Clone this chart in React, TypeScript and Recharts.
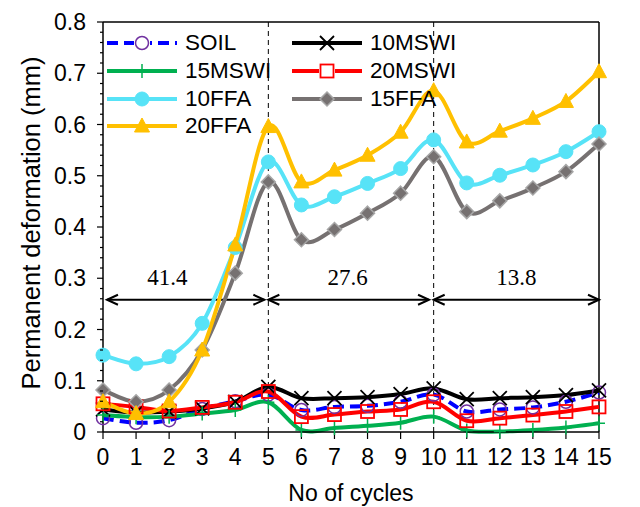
import React from "react";
import {
  LineChart,
  Line,
  XAxis,
  YAxis,
  ReferenceLine,
  ReferenceDot,
} from "recharts";

const cycles = [0, 1, 2, 3, 4, 5, 6, 7, 8, 9, 10, 11, 12, 13, 14, 15];
const soil = [0.027, 0.018, 0.023, 0.045, 0.06, 0.073, 0.043, 0.049, 0.051, 0.059, 0.073, 0.04, 0.044, 0.048, 0.059, 0.077];
const mswi10 = [0.044, 0.038, 0.04, 0.046, 0.059, 0.088, 0.066, 0.066, 0.068, 0.074, 0.085, 0.064, 0.066, 0.068, 0.072, 0.081];
const mswi15 = [0.033, 0.029, 0.03, 0.036, 0.043, 0.058, 0.004, 0.008, 0.012, 0.018, 0.03, 0.003, 0.001, 0.004, 0.009, 0.017];
const mswi20 = [0.055, 0.049, 0.041, 0.048, 0.058, 0.079, 0.03, 0.034, 0.04, 0.044, 0.059, 0.022, 0.027, 0.033, 0.04, 0.049];
const ffa10 = [0.15, 0.133, 0.147, 0.212, 0.36, 0.527, 0.443, 0.459, 0.485, 0.514, 0.57, 0.486, 0.501, 0.521, 0.547, 0.586];
const ffa15 = [0.082, 0.059, 0.082, 0.16, 0.31, 0.488, 0.375, 0.395, 0.427, 0.466, 0.537, 0.43, 0.451, 0.476, 0.508, 0.562];
const ffa20 = [0.059, 0.036, 0.059, 0.16, 0.365, 0.596, 0.488, 0.511, 0.54, 0.585, 0.666, 0.566, 0.587, 0.612, 0.645, 0.703];

const xTicks = [0, 1, 2, 3, 4, 5, 6, 7, 8, 9, 10, 11, 12, 13, 14, 15];

// stage annotations: loading-stage arrows and their labels
const stageStarts = [0.12, 5.0, 10.0];
const stageEnds = [4.88, 9.86, 15.0];
const stageLabels = ["41.4", "27.6", "13.8"];
const stageLabelX = [1.95, 7.4, 12.5];
const arrowY = 0.258;
const labelY = 0.302;
const stageDividers = [5, 10];

type MarkerKind = "circleOpen" | "cross" | "plus" | "square" | "circle" | "diamond" | "triangle";

const seriesList: {
  key: string;
  name: string;
  values: number[];
  color: string;
  dash?: string;
  marker: MarkerKind;
  markerColor: string;
}[] = [
  { key: "soil", name: "SOIL", values: soil, color: "#0000ff", dash: "11 6", marker: "circleOpen", markerColor: "#7030a0" },
  { key: "mswi10", name: "10MSWI", values: mswi10, color: "#000000", marker: "cross", markerColor: "#000000" },
  { key: "mswi15", name: "15MSWI", values: mswi15, color: "#00b050", marker: "plus", markerColor: "#00b050" },
  { key: "mswi20", name: "20MSWI", values: mswi20, color: "#ff0000", marker: "square", markerColor: "#ff0000" },
  { key: "ffa10", name: "10FFA", values: ffa10, color: "#57e3f7", marker: "circle", markerColor: "#57e3f7" },
  { key: "ffa15", name: "15FFA", values: ffa15, color: "#767171", marker: "diamond", markerColor: "#767171" },
  { key: "ffa20", name: "20FFA", values: ffa20, color: "#ffc000", marker: "triangle", markerColor: "#ffc000" },
];

const data = cycles.map((c, i) => {
  const row: Record<string, number> = { cycle: c };
  seriesList.forEach((s) => (row[s.key] = s.values[i]));
  return row;
});

const FONT = "'Liberation Sans', Arial, sans-serif";

// Excel-like smoothing (Catmull-Rom through the points)
function smoothCurve(context: any) {
  let pts: [number, number][] = [];
  return {
    areaStart() {},
    areaEnd() {},
    lineStart() {
      pts = [];
    },
    lineEnd() {
      if (!pts.length) return;
      context.moveTo(pts[0][0], pts[0][1]);
      for (let i = 0; i < pts.length - 1; i++) {
        const p0 = pts[i - 1] || pts[i];
        const p1 = pts[i];
        const p2 = pts[i + 1];
        const p3 = pts[i + 2] || p2;
        const k = 1 / 6;
        context.bezierCurveTo(
          p1[0] + (p2[0] - p0[0]) * k,
          p1[1] + (p2[1] - p0[1]) * k,
          p2[0] - (p3[0] - p1[0]) * k,
          p2[1] - (p3[1] - p1[1]) * k,
          p2[0],
          p2[1],
        );
      }
    },
    point(x: number, y: number) {
      pts.push([+x, +y]);
    },
  };
}

function Marker({ kind, color, cx, cy }: { kind: MarkerKind; color: string; cx: number; cy: number }) {
  switch (kind) {
    case "circleOpen":
      return <circle cx={cx} cy={cy} r={6.5} fill="none" stroke={color} strokeWidth={1.5} />;
    case "cross":
      return (
        <path
          d={`M${cx - 7},${cy - 7}L${cx + 7},${cy + 7}M${cx - 7},${cy + 7}L${cx + 7},${cy - 7}`}
          stroke={color}
          strokeWidth={1.8}
        />
      );
    case "plus":
      return (
        <path d={`M${cx},${cy - 7}L${cx},${cy + 7}M${cx - 6},${cy}L${cx + 6},${cy}`} stroke={color} strokeWidth={1.5} />
      );
    case "square":
      return <rect x={cx - 6.5} y={cy - 6.5} width={13} height={13} fill="none" stroke={color} strokeWidth={1.8} />;
    case "circle":
      return <circle cx={cx} cy={cy} r={7} fill={color} stroke={color} />;
    case "diamond":
      return (
        <path
          d={`M${cx},${cy - 7}L${cx + 7},${cy}L${cx},${cy + 7}L${cx - 7},${cy}Z`}
          fill={color}
          stroke="#a6a6a6"
          strokeWidth={1.5}
        />
      );
    case "triangle":
      return <path d={`M${cx},${cy - 8}L${cx + 7.5},${cy + 6}L${cx - 7.5},${cy + 6}Z`} fill={color} stroke={color} />;
  }
  return null;
}

function YTick(props: any) {
  const { x, y, payload } = props;
  const v = payload.value as number;
  const major = Math.abs(v * 10 - Math.round(v * 10)) < 1e-6;
  return (
    <g>
      <line x1={x - (major ? 6 : 3)} x2={x} y1={y} y2={y} stroke="#000" strokeWidth={1.2} />
      {major && (
        <text x={x - 17} y={y} dy={8} textAnchor="end" fontSize={23} fontFamily={FONT} fill="#000">
          {v === 0 ? "0" : v.toFixed(1)}
        </text>
      )}
    </g>
  );
}

function Arrow(props: any) {
  const { x1, y1, x2, y2 } = props;
  const h = 11;
  const w = 5;
  return (
    <g stroke="#000" strokeWidth={2} fill="none">
      <line x1={x1} y1={y1} x2={x2} y2={y2} />
      <path d={`M${x1 + h},${y1 - w}L${x1},${y1}L${x1 + h},${y1 + w}`} />
      <path d={`M${x2 - h},${y2 - w}L${x2},${y2}L${x2 - h},${y2 + w}`} />
    </g>
  );
}

function LegendBox() {
  const rowY = [43, 71, 99, 126];
  const colX = [107, 292];
  return (
    <div style={{ position: "absolute", left: 0, top: 0, pointerEvents: "none" }}>
      {seriesList.map((s, i) => {
        const col = i % 2;
        const row = Math.floor(i / 2);
        const left = colX[col];
        const top = rowY[row] - 12;
        return (
          <div
            key={s.key}
            style={{ position: "absolute", left, top, height: 24, display: "flex", alignItems: "center", whiteSpace: "nowrap" }}
          >
            <svg width={70} height={24}>
              <line x1={0} x2={70} y1={12} y2={12} stroke={s.color} strokeWidth={4} strokeDasharray={s.dash} />
              {s.marker === "circleOpen" || s.marker === "square" ? (
                <rect x={27} y={4} width={16} height={16} fill="#fff" />
              ) : null}
              <Marker kind={s.marker} color={s.markerColor} cx={35} cy={12} />
            </svg>
            <span style={{ marginLeft: 8, fontFamily: FONT, fontSize: 22.5, color: "#000", lineHeight: "24px" }}>
              {s.name}
            </span>
          </div>
        );
      })}
    </div>
  );
}

export default function App() {
  const yTicks: number[] = [];
  for (let i = 0; i <= 40; i++) yTicks.push(Math.round(i * 2) / 100);
  return (
    <div style={{ position: "absolute", left: 0, top: 0, width: 640, height: 507, background: "#fff" }}>
      <LineChart width={640} height={507} data={data} margin={{ top: 22, right: 41, left: 0, bottom: 0 }}>
        <XAxis
          dataKey="cycle"
          type="number"
          domain={[0, 15]}
          ticks={xTicks}
          interval={0}
          tickSize={7}
          tickMargin={10}
          height={75}
          stroke="#000"
          axisLine={{ stroke: "#000", strokeWidth: 1.5 }}
          tickLine={{ stroke: "#000", strokeWidth: 1.2 }}
          tick={{ fontSize: 23, fontFamily: FONT, fill: "#000" }}
          label={{ value: "No of cycles", position: "center", dy: 23, fontSize: 23, fontFamily: FONT, fill: "#000" }}
        />
        <YAxis
          type="number"
          domain={[0, 0.8]}
          ticks={yTicks}
          interval={0}
          width={103}
          tickSize={0}
          tickMargin={0}
          tickLine={false}
          axisLine={{ stroke: "#000", strokeWidth: 1.5 }}
          tick={<YTick />}
          label={{
            value: "Permanent deformation (mm)",
            angle: -90,
            position: "center",
            dx: -21,
            dy: -4,
            fontSize: 25.5,
            fontFamily: FONT,
            fill: "#000",
          }}
        />
        <ReferenceLine y={0.8} stroke="#000" strokeWidth={1.5} />
        <ReferenceLine x={15} stroke="#000" strokeWidth={1.5} />
        {stageDividers.map((x) => (
          <ReferenceLine key={`div-${x}`} x={x} stroke="#000" strokeWidth={1} strokeDasharray="5 4" />
        ))}
        {stageStarts.map((s, i) => (
          <ReferenceLine
            key={`arrow-${i}`}
            segment={[
              { x: s, y: arrowY },
              { x: stageEnds[i], y: arrowY },
            ]}
            shape={(p: any) => <Arrow {...p} />}
          />
        ))}
        {stageLabels.map((t, i) => (
          <ReferenceDot
            key={`lab-${i}`}
            x={stageLabelX[i]}
            y={labelY}
            r={0}
            shape={(p: any) => (
              <text
                x={p.cx}
                y={p.cy}
                dy={8}
                textAnchor="middle"
                fontSize={23}
                fontFamily="'Liberation Serif', 'Times New Roman', serif"
                fill="#000"
              >
                {t}
              </text>
            )}
          />
        ))}
        {seriesList.map((s) => (
          <Line
            key={s.key}
            dataKey={s.key}
            name={s.name}
            type={smoothCurve as any}
            stroke={s.color}
            strokeWidth={4}
            strokeDasharray={s.dash}
            isAnimationActive={false}
            activeDot={false}
            dot={(p: any) => (
              <Marker key={`${s.key}-${p.index}`} kind={s.marker} color={s.markerColor} cx={p.cx} cy={p.cy} />
            )}
          />
        ))}
      </LineChart>
      <LegendBox />
    </div>
  );
}
